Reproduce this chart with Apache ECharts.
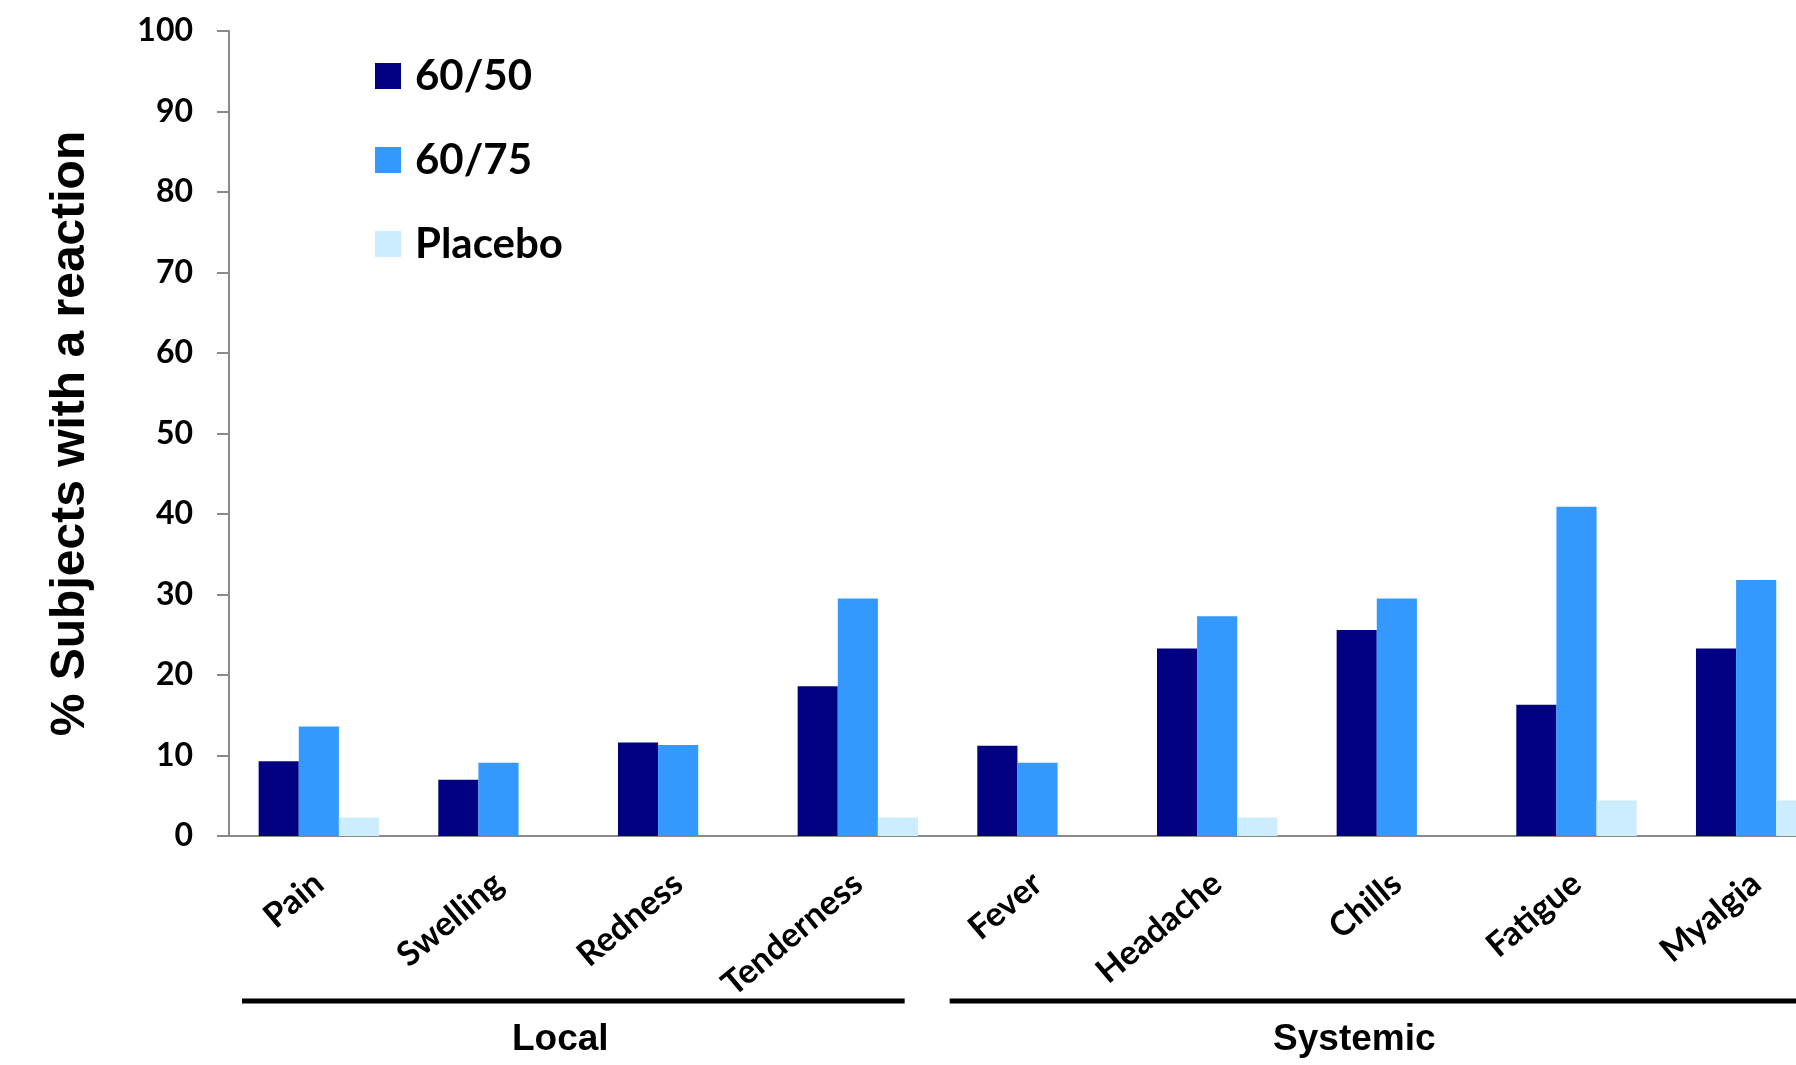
<!DOCTYPE html>
<html>
<head>
<meta charset="utf-8">
<script src="https://cdn.jsdelivr.net/npm/echarts@6/dist/echarts.min.js"></script>
<style>
  html,body{margin:0;padding:0;background:#fff;overflow:hidden;}
  #chart{width:1850px;height:1065px;}
</style>
</head>
<body>
<div id="chart"></div>
<script>
// reaction categories, local first then systemic
const categories = ['Pain', 'Swelling', 'Redness', 'Tenderness', 'Fever', 'Headache', 'Chills', 'Fatigue', 'Myalgia']
const seriesNames = ['60/50', '60/75', 'Placebo']
const dose6050 = [9.3, 7.0, 11.6, 18.6, 11.2, 23.3, 25.6, 16.3, 23.3]
const dose6075 = [13.6, 9.1, 11.3, 29.5, 9.1, 27.3, 29.5, 40.9, 31.8]
const placebo = [2.3, 0, 0, 2.3, 0, 2.3, 0, 4.4, 4.4]
// group labels under the axis: first and last category index
const groupNames = ['Local', 'Systemic']
const groupFirst = [0, 4]
const groupLast = [3, 8]

const colors = ['#000080', '#3399FF', '#CCECFF']
const axisGray = '#8a8a8a'

const chart = echarts.init(document.getElementById('chart'))

chart.setOption({
  animation: false,
  color: colors,
  legend: {
    orient: 'vertical',
    left: 370,
    top: 50,
    icon: 'rect',
    itemWidth: 26,
    itemHeight: 26,
    itemGap: 42,
    textStyle: {
      fontFamily: 'Lato',
      fontWeight: 'bold',
      fontSize: 42,
      lineHeight: 42,
      color: '#000',
      padding: [0, 0, 0, 9]
    },
    data: seriesNames
  },
  grid: {
    left: 229,
    right: 4,
    top: 31,
    bottom: 229,
    containLabel: false
  },
  xAxis: {
    type: 'category',
    data: categories,
    axisLine: { lineStyle: { color: axisGray, width: 2 } },
    axisTick: { length: 12, lineStyle: { color: axisGray, width: 2 } },
    axisLabel: {
      rotate: 40,
      margin: 43,
      fontFamily: 'Lato',
      fontWeight: 'bold',
      fontSize: 34,
      color: '#000'
    }
  },
  yAxis: {
    type: 'value',
    min: 0,
    max: 100,
    interval: 10,
    name: '% Subjects with a reaction',
    nameLocation: 'middle',
    nameGap: 134,
    nameTextStyle: {
      fontFamily: 'Liberation Sans',
      fontWeight: 'bold',
      fontSize: 48,
      color: '#000'
    },
    axisLine: { show: true, lineStyle: { color: axisGray, width: 2 } },
    axisTick: { show: true, length: 12, lineStyle: { color: axisGray, width: 2 } },
    splitLine: { show: false },
    axisLabel: {
      margin: 36,
      fontFamily: 'Lato',
      fontWeight: 'bold',
      fontSize: 32,
      color: '#000'
    }
  },
  series: [
    { name: seriesNames[0], type: 'bar', data: dose6050, barGap: '0%', barCategoryGap: '33%' },
    { name: seriesNames[1], type: 'bar', data: dose6075, barGap: '0%', barCategoryGap: '33%' },
    { name: seriesNames[2], type: 'bar', data: placebo, barGap: '0%', barCategoryGap: '33%' }
  ]
})

// group brackets under the category labels, placed from the axis scale
const c0 = chart.convertToPixel({ xAxisIndex: 0 }, 0)
const band = chart.convertToPixel({ xAxisIndex: 0 }, 1) - c0
const insetLeft = [13, 2]
const labelShift = [-13, -22]
const graphics = []
groupNames.forEach((name, i) => {
  const x1 = chart.convertToPixel({ xAxisIndex: 0 }, groupFirst[i]) - band / 2 + insetLeft[i]
  const x2 = chart.convertToPixel({ xAxisIndex: 0 }, groupLast[i]) + band / 2 - 43
  graphics.push({
    type: 'line',
    shape: { x1: x1, y1: 1001, x2: x2, y2: 1001 },
    style: { stroke: '#000', lineWidth: 5 }
  })
  graphics.push({
    type: 'text',
    x: (x1 + x2) / 2 + labelShift[i],
    y: 1040,
    style: {
      text: name,
      fontFamily: 'Liberation Sans',
      fontWeight: 'bold',
      fontSize: 37,
      fill: '#000',
      align: 'center',
      verticalAlign: 'middle'
    }
  })
})
chart.setOption({ graphic: graphics })
</script>
</body>
</html>
